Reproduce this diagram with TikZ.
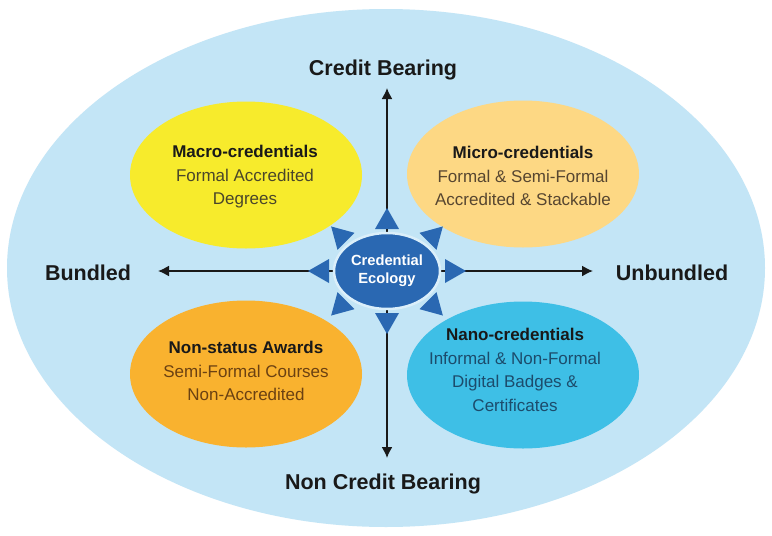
\documentclass[tikz,border=0pt]{standalone}
\usepackage{fontspec}
\setmainfont{Liberation Sans}
\usetikzlibrary{arrows.meta,shapes.geometric,calc}
\definecolor{skybg}{HTML}{C3E5F6}
\definecolor{macrofill}{HTML}{F7EB2C}
\definecolor{microfill}{HTML}{FDD884}
\definecolor{nonfill}{HTML}{F9B22F}
\definecolor{nanofill}{HTML}{3EBFE6}
\definecolor{hubblue}{HTML}{2A68B2}
\definecolor{macroink}{HTML}{4A462A}
\definecolor{microink}{HTML}{574630}
\definecolor{nonink}{HTML}{6B4112}
\definecolor{nanoink}{HTML}{1C4C6C}

\begin{document}
\begin{tikzpicture}[
  x=1pt, y=-1pt,
  cred/.style={ellipse, minimum width=232pt, minimum height=147pt, inner sep=0pt},
  credtxt/.style={align=center, font=\fontsize{17}{23.5}\selectfont},
  pole/.style={font=\fontsize{21.5}{24}\selectfont\bfseries, text=black!90},
  hub/.style={ellipse, fill=hubblue, draw=skybg!60!white, line width=2.5pt, minimum width=106pt,
              minimum height=76pt, inner sep=0pt, align=center, text=white,
              font=\fontsize{14.7}{18}\selectfont\bfseries},
  axis/.style={-{Latex[length=11pt,width=11pt]}, line width=1.6pt, black!90}
]
\fill[white] (0,0) rectangle (772,536);
\useasboundingbox (0,0) rectangle (772,536);
\fill[skybg] (386,268) ellipse [x radius=379, y radius=259];

\coordinate (mid) at (387,271);
\coordinate (ntip) at (387,88);
\coordinate (stip) at (387,458);
\coordinate (wtip) at (158,271);
\coordinate (etip) at (593,271);
\draw[axis] (mid) -- (ntip);
\draw[axis] (mid) -- (stip);
\draw[axis] (mid) -- (wtip);
\draw[axis] (mid) -- (etip);

\node[cred, fill=macrofill] (macro) at (246,175) {};
\node[cred, fill=microfill] (micro) at (523,174) {};
\node[cred, fill=nonfill]   (nonst) at (246,374) {};
\node[cred, fill=nanofill]  (nano)  at (523,375) {};

\node[credtxt, text=macroink] (macrotxt) at (245,177)
  {\textbf{\color{black!90}Macro-credentials}\\Formal Accredited\\Degrees};
\node[credtxt, text=microink] (microtxt) at (523,176)
  {\textbf{\color{black!90}Micro-credentials}\\Formal \& Semi-Formal\\Accredited \& Stackable};
\node[credtxt, text=nonink] (nonsttxt) at (246,371)
  {\textbf{\color{black!90}Non-status Awards}\\Semi-Formal Courses\\Non-Accredited};
\node[credtxt, text=nanoink] (nanotxt) at (515,370)
  {\textbf{\color{black!90}Nano-credentials}\\Informal \& Non-Formal\\Digital Badges \&\\Certificates};

\node[hub] (eco) at (mid) {Credential\\Ecology};
% eight pointers round the hub, on an ellipse
\foreach \a in {0,45,...,315}
  \fill[hubblue] ($(eco.center)+({79*cos(\a)},{63*sin(\a)})$)
    -- ($(eco.center)+({58*cos(\a)-12*sin(\a)},{42*sin(\a)+12*cos(\a)})$)
    -- ($(eco.center)+({58*cos(\a)+12*sin(\a)},{42*sin(\a)-12*cos(\a)})$) -- cycle;

\node[pole] (credit)   at (383,70)  {Credit Bearing};
\node[pole] (noncred)  at (383,484) {Non Credit Bearing};
\node[pole] (bundled)  at (88,273)  {Bundled};
\node[pole] (unbundle) at (672,273) {Unbundled};
\end{tikzpicture}
\end{document}
